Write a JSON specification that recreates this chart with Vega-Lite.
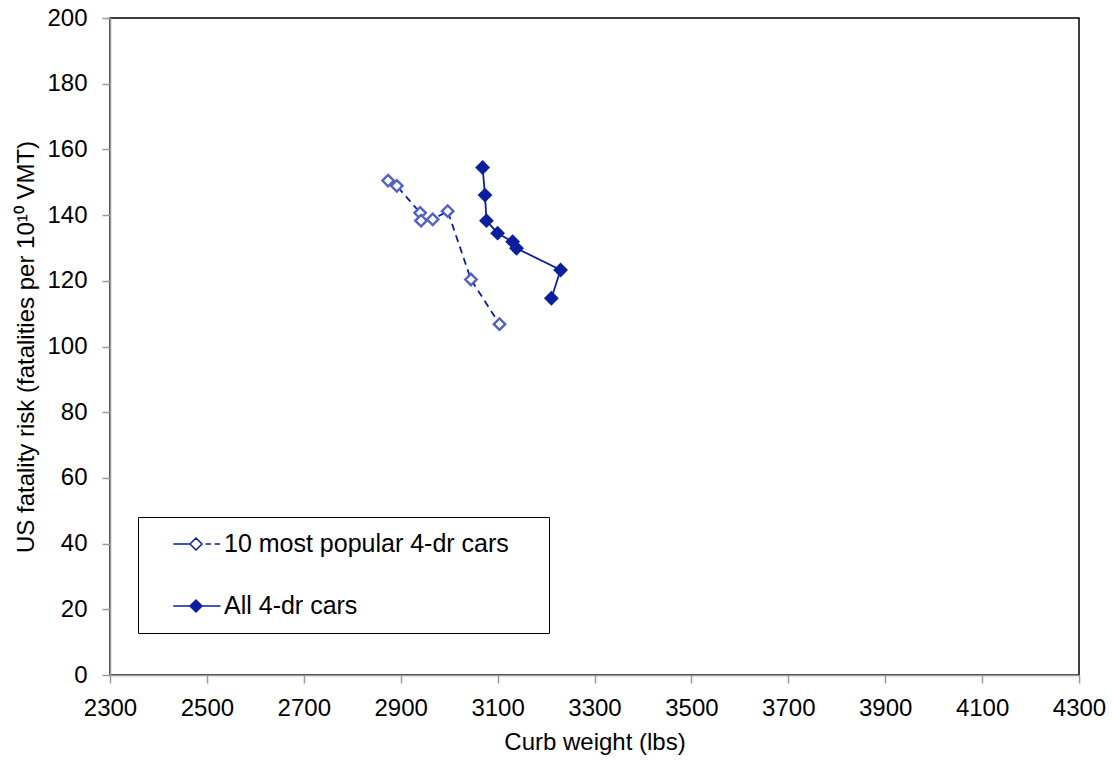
{
  "$schema": "https://vega.github.io/schema/vega-lite/v6.json",
  "width": 969,
  "height": 657,
  "autosize": "none",
  "padding": {"left": 110, "top": 18, "right": 33, "bottom": 86},
  "background": "white",
  "config": {
    "font": "Liberation Sans",
    "view": {"stroke": "black", "strokeWidth": 1.5}
  },
  "data": {
    "values": [
      {"series": "10 most popular 4-dr cars", "idx": 1, "weight": 2874, "risk": 150.5},
      {"series": "10 most popular 4-dr cars", "idx": 2, "weight": 2892, "risk": 148.9},
      {"series": "10 most popular 4-dr cars", "idx": 3, "weight": 2940, "risk": 140.7},
      {"series": "10 most popular 4-dr cars", "idx": 4, "weight": 2942, "risk": 138.3},
      {"series": "10 most popular 4-dr cars", "idx": 5, "weight": 2966, "risk": 138.7},
      {"series": "10 most popular 4-dr cars", "idx": 6, "weight": 2997, "risk": 141.2},
      {"series": "10 most popular 4-dr cars", "idx": 7, "weight": 3045, "risk": 120.4},
      {"series": "10 most popular 4-dr cars", "idx": 8, "weight": 3104, "risk": 106.8},
      {"series": "All 4-dr cars", "idx": 1, "weight": 3069, "risk": 154.5},
      {"series": "All 4-dr cars", "idx": 2, "weight": 3074, "risk": 146.1},
      {"series": "All 4-dr cars", "idx": 3, "weight": 3077, "risk": 138.3},
      {"series": "All 4-dr cars", "idx": 4, "weight": 3100, "risk": 134.5},
      {"series": "All 4-dr cars", "idx": 5, "weight": 3131, "risk": 131.9},
      {"series": "All 4-dr cars", "idx": 6, "weight": 3139, "risk": 129.9},
      {"series": "All 4-dr cars", "idx": 7, "weight": 3230, "risk": 123.3},
      {"series": "All 4-dr cars", "idx": 8, "weight": 3211, "risk": 114.7}
    ]
  },
  "encoding": {
    "x": {
      "field": "weight",
      "type": "quantitative",
      "scale": {"domain": [2300, 4300], "nice": false, "zero": false},
      "axis": {
        "values": [2300, 2500, 2700, 2900, 3100, 3300, 3500, 3700, 3900, 4100, 4300],
        "format": "d",
        "grid": false,
        "domainColor": "#999999",
        "domainWidth": 1.5,
        "tickColor": "#999999",
        "tickWidth": 1.5,
        "tickSize": 8,
        "labelFontSize": 24,
        "labelColor": "black",
        "labelPadding": 13,
        "labelFlush": false,
        "title": "Curb weight (lbs)",
        "titleFontSize": 24,
        "titleFontWeight": "normal",
        "titleColor": "black",
        "titlePadding": 10
      }
    },
    "y": {
      "field": "risk",
      "type": "quantitative",
      "scale": {"domain": [0, 200], "nice": false},
      "axis": {
        "values": [0, 20, 40, 60, 80, 100, 120, 140, 160, 180, 200],
        "grid": false,
        "domainColor": "#999999",
        "domainWidth": 1.5,
        "tickColor": "#999999",
        "tickWidth": 1.5,
        "tickSize": 8,
        "labelFontSize": 24,
        "labelColor": "black",
        "labelPadding": 15,
        "labelFlush": false,
        "title": "US fatality risk (fatalities per 10¹⁰ VMT)",
        "titleFontSize": 24,
        "titleFontWeight": "normal",
        "titleColor": "black",
        "titlePadding": 8
      }
    }
  },
  "layer": [
    {
      "transform": [{"filter": "datum.series === '10 most popular 4-dr cars'"}],
      "mark": {"type": "line", "color": "#0b1f9e", "strokeWidth": 1.8, "strokeDash": [7, 5]},
      "encoding": {"order": {"field": "idx", "type": "quantitative"}}
    },
    {
      "transform": [{"filter": "datum.series === 'All 4-dr cars'"}],
      "mark": {"type": "line", "color": "#0b1f9e", "strokeWidth": 1.8},
      "encoding": {"order": {"field": "idx", "type": "quantitative"}}
    },
    {
      "transform": [{"filter": "datum.series === '10 most popular 4-dr cars'"}],
      "mark": {"type": "point", "shape": "diamond", "filled": false, "fill": "white", "fillOpacity": 1, "stroke": "#5161c6", "strokeWidth": 2.4, "size": 130, "opacity": 1}
    },
    {
      "transform": [{"filter": "datum.series === 'All 4-dr cars'"}],
      "mark": {"type": "point", "shape": "diamond", "filled": true, "color": "#0b1f9e", "size": 220, "opacity": 1}
    },
    {
      "transform": [{"filter": "false"}],
      "mark": {"type": "point", "strokeWidth": 1.5, "opacity": 1, "fillOpacity": 1},
      "encoding": {
        "shape": {
          "field": "series",
          "type": "nominal",
          "scale": {
            "domain": ["10 most popular 4-dr cars", "All 4-dr cars"],
            "range": [
              "M-1.9,0H-0.5M0.8,0H1.25M1.55,0H2M-0.5,0L0,-0.5L0.5,0L0,0.5Z",
              "M-1.9,0H2.04M-0.5,0L0,-0.5L0.5,0L0,0.5Z"
            ]
          },
          "legend": {
            "orient": "none",
            "legendX": 28,
            "legendY": 499,
            "title": "\u00a0",
            "titleOrient": "right",
            "titleFontSize": 2,
            "titlePadding": 26,
            "strokeColor": "black",
            "fillColor": "white",
            "padding": 14,
            "symbolSize": 576,
            "symbolStrokeWidth": 1.5,
            "symbolOffset": 31,
            "labelOffset": 15,
            "labelFontSize": 25,
            "labelColor": "black",
            "labelLimit": 600,
            "rowPadding": 36
          }
        },
        "fill": {
          "field": "series",
          "type": "nominal",
          "scale": {"domain": ["10 most popular 4-dr cars", "All 4-dr cars"], "range": ["white", "#0b1f9e"]}
        },
        "stroke": {
          "field": "series",
          "type": "nominal",
          "scale": {"domain": ["10 most popular 4-dr cars", "All 4-dr cars"], "range": ["#0b1f9e", "#0b1f9e"]}
        }
      }
    }
  ]
}
